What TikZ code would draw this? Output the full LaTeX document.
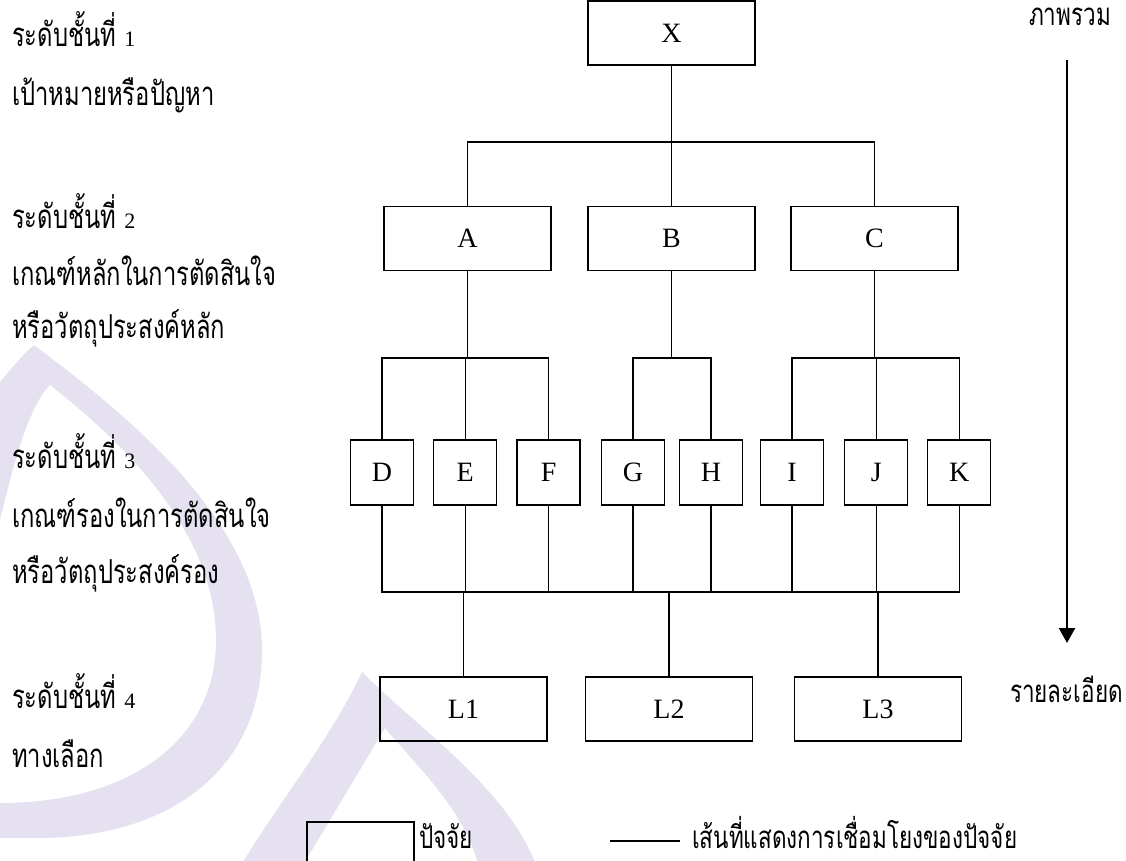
\documentclass[tikz,border=0pt]{standalone}
\usepackage{fontspec}
\setmainfont{Liberation Serif}
\newfontfamily\thaifont[Script=Thai,FakeStretch=0.72]{Loma}
\usetikzlibrary{arrows.meta}
\definecolor{wm}{RGB}{230,225,240}
\newcommand\lvlnum[1]{{\rmfamily\fontsize{22}{22}\selectfont #1}}

\begin{document}
\begin{tikzpicture}[x=1pt,y=-1pt,
  box/.style={draw=black, line width=1.5pt, minimum width=167pt, minimum height=64pt,
    inner sep=0pt, font=\fontsize{28}{28}\selectfont},
  sbox/.style={box, minimum width=63pt, minimum height=65pt},
  link/.style={line width=1.4pt},
  lab/.style={anchor=base west, inner sep=0pt, font=\thaifont\fontsize{33}{33}\selectfont},
  note/.style={anchor=base west, inner sep=0pt, font=\thaifont\fontsize{31.25}{31.25}\selectfont},
]
\useasboundingbox (0,0) rectangle (1126,860);

% faint background emblem
\begin{scope}
\clip (0,0) rectangle (1126,860);
\fill[wm, even odd rule]
  (34,345) .. controls (120,410) and (262,520) .. (262,650)
  .. controls (262,770) and (170,837) .. (40,838) -- (-40,838) -- (-40,420)
  .. controls (-10,400) and (15,360) .. (34,345) -- cycle
  (50,385) .. controls (120,440) and (216,530) .. (216,640)
  .. controls (216,740) and (130,803) .. (0,803) -- (-10,803) -- (-10,560)
  .. controls (10,480) and (25,410) .. (50,385) -- cycle;
\fill[wm, even odd rule]
  (362,672) .. controls (420,730) and (510,790) .. (538,870) -- (238,870)
  .. controls (280,800) and (330,740) .. (362,672) -- cycle
  (385,728) .. controls (420,770) and (465,810) .. (480,870) -- (300,870)
  .. controls (330,820) and (360,770) .. (385,728) -- cycle;
% legend sample box (runs off the lower edge)
\node[box, minimum width=107pt, minimum height=58pt] (legbox) at (360.5,851) {};
\end{scope}

% level 1
\node[box] (X) at (671.5,33) {X};
% level 2
\node[box] (A) at (467.5,238.5) {A};
\node[box] (B) at (671.5,238.5) {B};
\node[box] (C) at (874.5,238.5) {C};
% level 3
\node[sbox] (D) at (382,472.5) {D};
\node[sbox] (E) at (465.2,472.5) {E};
\node[sbox] (F) at (548.6,472.5) {F};
\node[sbox] (G) at (633,472.5) {G};
\node[sbox] (H) at (711,472.5) {H};
\node[sbox] (I) at (792,472.5) {I};
\node[sbox] (J) at (876.2,472.5) {J};
\node[sbox] (K) at (959.2,472.5) {K};
% level 4
\node[box] (L1) at (463.5,709) {L1};
\node[box] (L2) at (669,709) {L2};
\node[box] (L3) at (878,709) {L3};

% bus heights
\coordinate (b1) at (0,142);
\coordinate (b2) at (0,358);
\coordinate (b3) at (0,592);

% X to A, B, C
\draw[link] (X.south) -- (X.south |- b1);
\draw[link] (A.north) -- (A.north |- b1) -| (C.north);
\draw[link] (B.north) -- (B.north |- b1);
% A to D, E, F
\draw[link] (A.south) -- (A.south |- b2);
\draw[link] (D.north) |- (F.north |- b2) -- (F.north);
\draw[link] (E.north) -- (E.north |- b2);
% B to G, H
\draw[link] (B.south) -- (B.south |- b2);
\draw[link] (G.north) |- (H.north |- b2) -- (H.north);
% C to I, J, K
\draw[link] (C.south) -- (C.south |- b2);
\draw[link] (I.north) |- (K.north |- b2) -- (K.north);
\draw[link] (J.north) -- (J.north |- b2);
% all sub-criteria to the alternatives
\draw[link] (D.south) |- (K.south |- b3) -- (K.south);
\foreach \n in {E,F,G,H,I,J} \draw[link] (\n.south) -- (\n.south |- b3);
\foreach \n in {L1,L2,L3} \draw[link] (\n.north) -- (\n.north |- b3);

% overview-to-detail arrow
\coordinate (atop) at (1067,60);
\coordinate (abot) at (1067,643);
\draw[line width=2.2pt, -{Triangle[length=15pt,width=16pt]}] (atop) -- (abot);
\node[note, anchor=base] (ov) at (1070,25) {ภาพรวม};
\node[note, anchor=base east] (dt) at (1123,702) {รายละเอียด};

% level captions
\node[lab] (t1) at (12,46.7) {ระดับชั้นที่ \lvlnum{1}};
\node[lab] (t1b) at (12,105) {เป้าหมายหรือปัญหา};
\node[lab] (t2) at (12,228) {ระดับชั้นที่ \lvlnum{2}};
\node[lab] (t2b) at (12,285) {เกณฑ์หลักในการตัดสินใจ};
\node[lab] (t2c) at (12,338) {หรือวัตถุประสงค์หลัก};
\node[lab] (t3) at (12,468) {ระดับชั้นที่ \lvlnum{3}};
\node[lab] (t3b) at (12,527) {เกณฑ์รองในการตัดสินใจ};
\node[lab] (t3c) at (12,583) {หรือวัตถุประสงค์รอง};
\node[lab] (t4) at (12,708) {ระดับชั้นที่ \lvlnum{4}};
\node[lab] (t4b) at (12,767) {ทางเลือก};

% legend
\node[note] (legt1) at (419,848) {ปัจจัย};
\coordinate (la) at (610,841);
\coordinate (lb) at (680,841);
\draw[link] (la) -- (lb);
\node[note] (legt2) at (692,848) {เส้นที่แสดงการเชื่อมโยงของปัจจัย};
\end{tikzpicture}
\end{document}
